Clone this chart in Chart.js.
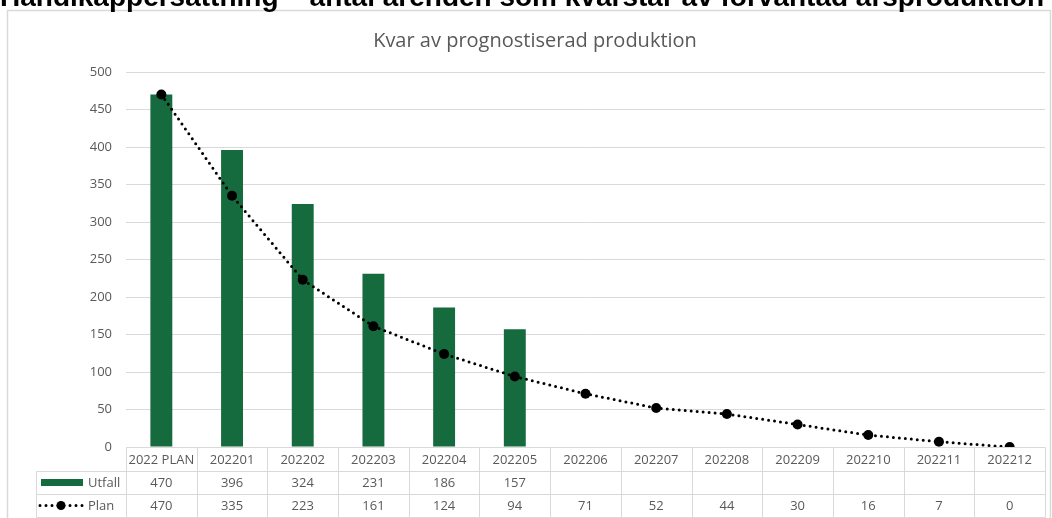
<!DOCTYPE html>
<html>
<head>
<meta charset="utf-8">
<script src="https://cdn.jsdelivr.net/npm/chart.js@4.4.0/dist/chart.umd.min.js"></script>
<style>
  html, body { margin: 0; padding: 0; background: #fff; overflow: hidden; }
  #wrap { position: absolute; left: 0; top: 0; width: 1052px; height: 518px; }
</style>
</head>
<body>
<div id="wrap"><canvas id="chart" width="1052" height="518"></canvas></div>
<script>
// --- data ---
const mainTitle = 'Handikappersättning – antal ärenden som kvarstår av förväntad årsproduktion';
const subTitle = 'Kvar av prognostiserad produktion';
const categories = ['2022 PLAN', '202201', '202202', '202203', '202204', '202205',
  '202206', '202207', '202208', '202209', '202210', '202211', '202212'];
const utfall = [470, 396, 324, 231, 186, 157, null, null, null, null, null, null, null];
const plan = [470, 335, 223, 161, 124, 94, 71, 52, 44, 30, 16, 7, 0];
const seriesNames = ['Utfall', 'Plan'];

const GREEN = '#166b3e';
const GRID = '#d9d9d9';
const TEXT = '#595959';
const FONT = '"Open Sans", "Liberation Sans", sans-serif';

// table rows under the plot
const ROW_Y = [447, 471, 494, 517];
const LEFT_COL = 36;

const frameAndTable = {
  id: 'frameAndTable',
  beforeDraw(chart) {
    const ctx = chart.ctx;
    ctx.save();
    ctx.fillStyle = '#fff';
    ctx.fillRect(0, 0, chart.width, chart.height);
    // outer frame
    ctx.strokeStyle = GRID;
    ctx.lineWidth = 1.5;
    ctx.strokeRect(7.5, 10.5, 1043, 520);
    // cropped heading (only its lower part shows)
    ctx.fillStyle = '#000';
    ctx.font = 'bold 28px "Liberation Sans", Arial, sans-serif';
    ctx.textAlign = 'left';
    ctx.textBaseline = 'alphabetic';
    ctx.fillText(mainTitle, 0, 6);
    // subtitle
    ctx.fillStyle = TEXT;
    ctx.font = '20px ' + FONT;
    ctx.textAlign = 'center';
    ctx.textBaseline = 'middle';
    ctx.fillText(subTitle, 535, 41);
    ctx.restore();
  },
  afterDraw(chart) {
    const ctx = chart.ctx;
    const x = chart.scales.x;
    const area = chart.chartArea;
    const n = categories.length;
    const w = (area.right - area.left) / n;
    ctx.save();
    ctx.strokeStyle = GRID;
    ctx.lineWidth = 1;
    const line = (x1, y1, x2, y2) => {
      ctx.beginPath();
      ctx.moveTo(Math.round(x1) + 0.5, Math.round(y1) + 0.5);
      ctx.lineTo(Math.round(x2) + 0.5, Math.round(y2) + 0.5);
      ctx.stroke();
    };
    // horizontal lines
    line(area.left, ROW_Y[0], area.right, ROW_Y[0]);
    for (let r = 1; r < ROW_Y.length; r++) line(LEFT_COL, ROW_Y[r], area.right, ROW_Y[r]);
    // vertical lines
    line(LEFT_COL, ROW_Y[1], LEFT_COL, ROW_Y[3]);
    for (let i = 0; i <= n; i++) {
      const xx = area.left + i * w;
      line(xx, ROW_Y[0], xx, ROW_Y[3]);
    }
    // cell text
    ctx.fillStyle = TEXT;
    ctx.font = '13px ' + FONT;
    ctx.textAlign = 'center';
    ctx.textBaseline = 'middle';
    categories.forEach((c, i) => {
      const cx = x.getPixelForValue(i);
      ctx.fillText(c, cx, (ROW_Y[0] + ROW_Y[1]) / 2 + 1);
      if (utfall[i] != null) ctx.fillText(String(utfall[i]), cx, (ROW_Y[1] + ROW_Y[2]) / 2 + 1);
      if (plan[i] != null) ctx.fillText(String(plan[i]), cx, (ROW_Y[2] + ROW_Y[3]) / 2 + 1);
    });
    // legend keys
    const y1 = (ROW_Y[1] + ROW_Y[2]) / 2;
    const y2 = (ROW_Y[2] + ROW_Y[3]) / 2;
    ctx.fillStyle = GREEN;
    ctx.fillRect(41, y1 - 3.5, 42, 7);
    ctx.strokeStyle = '#000';
    ctx.lineWidth = 3;
    ctx.lineCap = 'round';
    ctx.setLineDash([0, 6]);
    ctx.beginPath();
    ctx.moveTo(40, y2);
    ctx.lineTo(83, y2);
    ctx.stroke();
    ctx.setLineDash([]);
    ctx.fillStyle = '#000';
    ctx.beginPath();
    ctx.arc(61, y2, 4.5, 0, Math.PI * 2);
    ctx.fill();
    ctx.fillStyle = TEXT;
    ctx.textAlign = 'left';
    ctx.fillText(seriesNames[0], 88, y1 + 1);
    ctx.fillText(seriesNames[1], 88, y2 + 1);
    ctx.restore();
  }
};

new Chart(document.getElementById('chart'), {
  type: 'bar',
  data: {
    labels: categories,
    datasets: [
      {
        type: 'line',
        label: seriesNames[1],
        data: plan,
        borderColor: '#000',
        borderWidth: 3,
        borderDash: [0, 6],
        borderCapStyle: 'round',
        pointRadius: 5,
        pointBackgroundColor: '#000',
        pointBorderColor: '#000',
        pointBorderWidth: 0,
        tension: 0,
        fill: false,
        order: 0
      },
      {
        label: seriesNames[0],
        data: utfall,
        backgroundColor: GREEN,
        categoryPercentage: 1,
        barPercentage: 0.31,
        order: 1
      }
    ]
  },
  options: {
    responsive: false,
    animation: false,
    layout: { padding: { left: 0, right: 7, top: 72, bottom: 71 } },
    plugins: {
      legend: { display: false },
      title: { display: false },
      tooltip: { enabled: false }
    },
    scales: {
      x: {
        display: false,
        offset: true
      },
      y: {
        min: 0,
        max: 500,
        ticks: {
          stepSize: 50,
          padding: 14,
          color: TEXT,
          font: { family: FONT, size: 13 }
        },
        border: { display: false },
        grid: { color: GRID, drawTicks: false, lineWidth: 1 },
        afterFit(scale) { scale.width = 126; }
      }
    }
  },
  plugins: [frameAndTable]
});
</script>
</body>
</html>
